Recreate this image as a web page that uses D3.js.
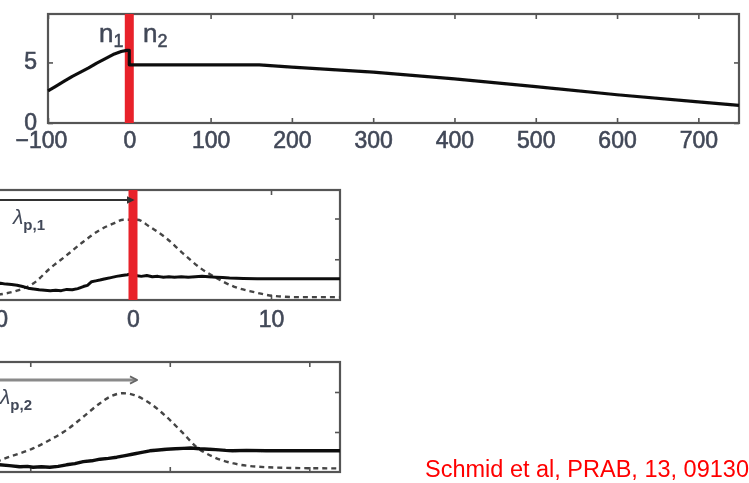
<!DOCTYPE html>
<html>
<head>
<meta charset="utf-8">
<script src="https://cdn.jsdelivr.net/npm/d3@7"></script>
<style>
  html, body { margin: 0; padding: 0; background: #fff; }
  svg { display: block; }
  text { font-family: "Liberation Sans", Arial, sans-serif; }
</style>
</head>
<body>
<svg id="fig" width="749" height="483"></svg>
<script>
// ---- Density profile along the plasma (top panel) ----
const profilePos = [-100, -90, -80, -70, -60, -50, -40, -30, -20, -10, -3, 0, 0, 160, 200, 300, 400, 500, 600, 700, 750];
const profileDensity = [2.65, 3.05, 3.45, 3.85, 4.2, 4.55, 4.95, 5.3, 5.65, 5.9, 6.0, 6.0, 4.8, 4.8, 4.62, 4.2, 3.65, 3.0, 2.33, 1.75, 1.45];
const profileTicksX = [-100, 0, 100, 200, 300, 400, 500, 600, 700];
const profileTicksY = [0, 5];

// ---- Wake snapshot in region n1 (middle panel) ----
const wake1DriverX = [-15, -12, -10, -8.5, -7.2, -6.0, -4.8, -3.6, -2.4, -1.4, -0.7, 0.3, 1.2, 2.4, 3.6, 4.9, 6.1, 7.3, 8.7, 10.2, 12, 15];
const wake1DriverY = [0.05, 0.07, 0.12, 0.22, 0.41, 0.78, 1.1, 1.43, 1.72, 1.88, 1.97, 1.97, 1.8, 1.52, 1.15, 0.78, 0.53, 0.33, 0.2, 0.1, 0.07, 0.07];
const wake1FieldX = [-15, -12, -10, -9.6, -9.2, -8.8, -8.4, -8.0, -7.6, -7.2, -6.8, -6.4, -6.0, -5.6, -5.2, -4.8, -4.4, -4.0, -3.6, -3.3, -3.0, -2.7, -2.4, -2.0, -1.6, -1.2, -0.8, -0.4, -0.2, 0.2, 0.6, 1.0, 1.4, 1.8, 2.2, 2.6, 3.0, 3.5, 4.0, 4.5, 5.0, 5.5, 6.0, 6.5, 7.0, 8.0, 9.0, 10.0, 11, 12, 13, 14, 15];
const wake1FieldY = [0.42, 0.41, 0.40, 0.41, 0.39, 0.38, 0.36, 0.33, 0.29, 0.27, 0.25, 0.24, 0.23, 0.24, 0.23, 0.26, 0.25, 0.28, 0.33, 0.36, 0.45, 0.47, 0.49, 0.52, 0.55, 0.58, 0.6, 0.62, 0.64, 0.6, 0.58, 0.6, 0.57, 0.58, 0.56, 0.57, 0.56, 0.57, 0.56, 0.57, 0.58, 0.57, 0.56, 0.55, 0.54, 0.53, 0.52, 0.52, 0.52, 0.52, 0.52, 0.52, 0.52];
const wake1TicksX = [-10, 0, 10];
const wake1TicksY = [1, 2];

// ---- Wake snapshot in region n2 (bottom panel) ----
const wake2DriverX = [-15, -13, -11.5, -9.8, -8.6, -7.4, -6.2, -5.0, -4.3, -3.35, -2.6, -1.43, -0.24, 0.95, 1.9, 3.1, 4.5, 6.9, 9, 12.2];
const wake2DriverY = [0.12, 0.2, 0.38, 0.59, 0.8, 1.05, 1.38, 1.72, 1.88, 1.97, 1.93, 1.72, 1.38, 0.97, 0.63, 0.38, 0.22, 0.12, 0.1, 0.09];
const wake2FieldX = [-15, -12.2, -11.5, -10.75, -10.2, -9.8, -9.2, -8.6, -8.0, -7.4, -6.8, -6.2, -5.6, -5.0, -4.4, -3.8, -3.2, -2.6, -2.0, -1.43, -0.8, -0.24, 0.4, 0.95, 1.5, 2.15, 2.8, 3.3, 4.0, 4.5, 5.5, 6.9, 8, 9, 10.5, 12.2];
const wake2FieldY = [0.2, 0.18, 0.16, 0.13, 0.14, 0.12, 0.13, 0.12, 0.14, 0.18, 0.21, 0.26, 0.28, 0.32, 0.34, 0.37, 0.41, 0.45, 0.49, 0.53, 0.55, 0.57, 0.58, 0.59, 0.6, 0.58, 0.57, 0.56, 0.54, 0.53, 0.54, 0.53, 0.53, 0.53, 0.53, 0.53];
const wake2TicksX = [-10, 0, 10];
const wake2TicksY = [1, 2];

const citation = "Schmid et al, PRAB, 13, 091301";

const svg = d3.select("#fig");
const defs = svg.append("defs");
defs.append("filter").attr("id", "soft")
  .attr("x", "-5%").attr("y", "-5%").attr("width", "110%").attr("height", "110%")
  .append("feGaussianBlur").attr("stdDeviation", 0.6);
defs.append("marker").attr("id", "headDark")
  .attr("viewBox", "0 0 10 10").attr("refX", 8).attr("refY", 5)
  .attr("markerWidth", 4).attr("markerHeight", 4).attr("orient", "auto")
  .append("path").attr("d", "M0,0 L10,5 L0,10 z").attr("fill", "#333");
defs.append("marker").attr("id", "headLight")
  .attr("viewBox", "0 0 10 10").attr("refX", 8).attr("refY", 5)
  .attr("markerWidth", 3).attr("markerHeight", 4).attr("orient", "auto")
  .append("path").attr("d", "M1,1 L9,5 L1,9").attr("fill", "none")
  .attr("stroke", "#666").attr("stroke-width", 2);

const fig = svg.append("g").attr("filter", "url(#soft)");

const frameColor = "#555";
const labelColor = "#424858";

function panel(g, x, y, opts) {
  const [x0, x1] = x.range();
  const [y0, y1] = y.range();
  // inward ticks on all four sides
  const bottom = g.append("g").attr("transform", `translate(0,${y0})`)
    .call(d3.axisBottom(x).tickValues(opts.ticksX).tickSizeInner(-5).tickSizeOuter(0)
      .tickPadding(opts.padX).tickFormat(opts.showX ? d => (d < 0 ? "\u2212" + Math.abs(d) : d) : ""));
  const top = g.append("g").attr("transform", `translate(0,${y1})`)
    .call(d3.axisTop(x).tickValues(opts.ticksX).tickSizeInner(-5).tickSizeOuter(0).tickFormat(""));
  const left = g.append("g").attr("transform", `translate(${x0},0)`)
    .call(d3.axisLeft(y).tickValues(opts.ticksY).tickSizeInner(-5).tickSizeOuter(0)
      .tickPadding(11).tickFormat(opts.showY ? d3.format("d") : ""));
  const right = g.append("g").attr("transform", `translate(${x1},0)`)
    .call(d3.axisRight(y).tickValues(opts.ticksY).tickSizeInner(-5).tickSizeOuter(0).tickFormat(""));
  [bottom, top, left, right].forEach(a => {
    a.select(".domain").remove();
    a.selectAll("line").attr("stroke", frameColor).attr("stroke-width", 1.6);
    a.selectAll("text").attr("font-size", 23).attr("fill", labelColor)
      .attr("stroke", labelColor).attr("stroke-width", 0.6)
      .style("font-family", "'Liberation Sans', Arial, sans-serif");
  });
  // negative labels sit a little left of their tick
  bottom.selectAll(".tick text").filter(d => d < 0).attr("dx", -7);
  left.selectAll(".tick text").attr("dy", "0.28em");
  g.append("rect").attr("x", x0).attr("y", y1).attr("width", x1 - x0).attr("height", y0 - y1)
    .attr("fill", "none").attr("stroke", frameColor).attr("stroke-width", 2.2);
}

// ---------------- Top panel: density profile ----------------
const xP = d3.scaleLinear().domain([-100, 750]).range([48, 739]);
const yP = d3.scaleLinear().domain([0, 9]).range([123, 14]);
const gP = fig.append("g");
panel(gP, xP, yP, { ticksX: profileTicksX, ticksY: profileTicksY, showX: true, showY: true, padX: 9 });

const nLab = gP.append("g").attr("fill", labelColor).attr("stroke", labelColor).attr("stroke-width", 0.5);
const n1 = nLab.append("text").attr("x", 99).attr("y", 42).attr("font-size", 26);
n1.append("tspan").text("n");
n1.append("tspan").attr("font-size", 18).attr("dy", 5).text("1");
const n2 = nLab.append("text").attr("x", 143).attr("y", 42).attr("font-size", 26);
n2.append("tspan").text("n");
n2.append("tspan").attr("font-size", 18).attr("dy", 5).text("2");

gP.append("line").attr("x1", xP(0)).attr("x2", xP(0)).attr("y1", yP.range()[1]).attr("y2", yP.range()[0])
  .attr("stroke", "#e8232c").attr("stroke-width", 9);

gP.append("path")
  .datum(d3.zip(profilePos, profileDensity))
  .attr("fill", "none").attr("stroke", "#111").attr("stroke-width", 3.2).attr("stroke-linejoin", "round")
  .attr("d", d3.line().x(d => xP(d[0])).y(d => yP(d[1])));

// ---------------- Middle panel: wake in n1 ----------------
const xW1 = d3.scaleLinear().domain([-15, 15]).range([-74, 340]);
const yW1 = d3.scaleLinear().domain([0, 2.7]).range([300, 190]);
const gW1 = fig.append("g");
panel(gW1, xW1, yW1, { ticksX: wake1TicksX, ticksY: wake1TicksY, showX: true, showY: false, padX: 11 });

gW1.append("path")
  .datum(d3.zip(wake1DriverX, wake1DriverY))
  .attr("fill", "none").attr("stroke", "#444").attr("stroke-width", 2.4).attr("stroke-dasharray", "5,4")
  .attr("d", d3.line().curve(d3.curveMonotoneX).x(d => xW1(d[0])).y(d => yW1(d[1])));
gW1.append("path")
  .datum(d3.zip(wake1FieldX, wake1FieldY))
  .attr("fill", "none").attr("stroke", "#111").attr("stroke-width", 3).attr("stroke-linejoin", "round")
  .attr("d", d3.line().x(d => xW1(d[0])).y(d => yW1(d[1])));
gW1.append("line").attr("x1", xW1(0)).attr("x2", xW1(0)).attr("y1", yW1.range()[1]).attr("y2", yW1.range()[0])
  .attr("stroke", "#e8232c").attr("stroke-width", 9);
gW1.append("line").attr("x1", xW1(-15)).attr("x2", xW1(0)).attr("y1", 200).attr("y2", 200)
  .attr("stroke", "#333").attr("stroke-width", 2).attr("marker-end", "url(#headDark)");
const l1 = gW1.append("text").attr("x", 13).attr("y", 224).attr("fill", labelColor).attr("font-size", 21);
l1.append("tspan").attr("font-style", "italic").text("\u03bb");
l1.append("tspan").attr("font-size", 15).attr("font-weight", "bold").attr("dy", 6).text("p,1");

// ---------------- Bottom panel: wake in n2 ----------------
const xW2 = d3.scaleLinear().domain([-15, 12.2]).range([-39.5, 340]);
const yW2 = d3.scaleLinear().domain([0, 2.75]).range([472, 362]);
const gW2 = fig.append("g");
panel(gW2, xW2, yW2, { ticksX: wake2TicksX, ticksY: wake2TicksY, showX: false, showY: false, padX: 11 });

gW2.append("line").attr("x1", xW2(-15)).attr("x2", xW2(-2.4)).attr("y1", 380).attr("y2", 380)
  .attr("stroke", "#8a8a8a").attr("stroke-width", 3).attr("marker-end", "url(#headLight)");
gW2.append("path")
  .datum(d3.zip(wake2DriverX, wake2DriverY))
  .attr("fill", "none").attr("stroke", "#444").attr("stroke-width", 2.4).attr("stroke-dasharray", "5,4")
  .attr("d", d3.line().curve(d3.curveMonotoneX).x(d => xW2(d[0])).y(d => yW2(d[1])));
gW2.append("path")
  .datum(d3.zip(wake2FieldX, wake2FieldY))
  .attr("fill", "none").attr("stroke", "#111").attr("stroke-width", 3.4).attr("stroke-linejoin", "round")
  .attr("d", d3.line().x(d => xW2(d[0])).y(d => yW2(d[1])));
const l2 = gW2.append("text").attr("x", 0).attr("y", 404).attr("fill", labelColor).attr("font-size", 21);
l2.append("tspan").attr("font-style", "italic").text("\u03bb");
l2.append("tspan").attr("font-size", 15).attr("font-weight", "bold").attr("dy", 6).text("p,2");

// ---------------- Reference note ----------------
svg.append("text").attr("x", 425).attr("y", 477).attr("font-size", 23.5).attr("fill", "#ff0000").text(citation);
</script>
</body>
</html>
